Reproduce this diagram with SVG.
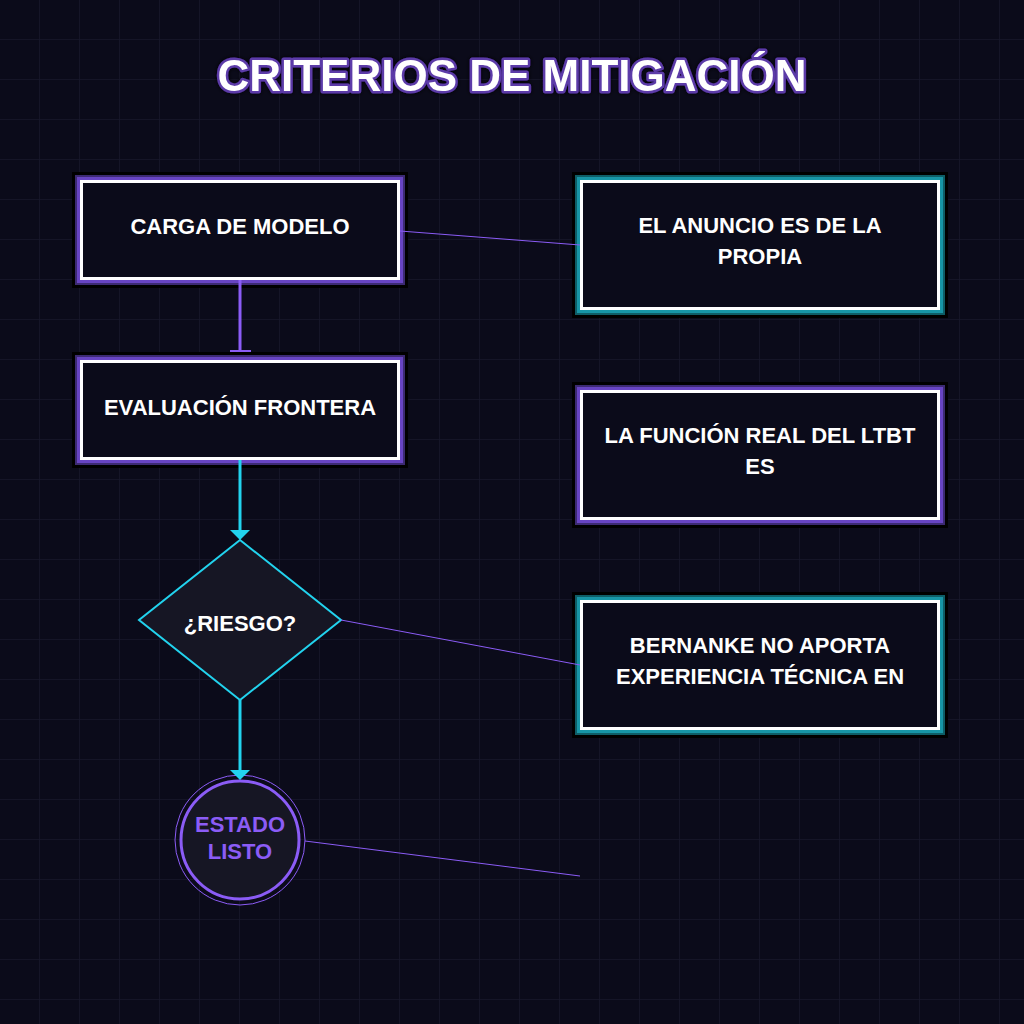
<svg xmlns="http://www.w3.org/2000/svg" width="1024" height="1024" viewBox="0 0 1024 1024">
  <defs>
    <pattern id="grid" width="40" height="40" patternUnits="userSpaceOnUse">
      <path d="M40 0 V40 M0 40 H40" fill="none" stroke="#17172b" stroke-width="1.5"/>
    </pattern>
    <filter id="glow" x="-10%" y="-40%" width="120%" height="180%">
      <feGaussianBlur in="SourceAlpha" stdDeviation="2"/>
      <feOffset dx="0" dy="0" result="b"/>
      <feFlood flood-color="#000"/>
      <feComposite in2="b" operator="in" result="s"/>
      <feMerge><feMergeNode in="s"/><feMergeNode in="SourceGraphic"/></feMerge>
    </filter>
  </defs>
  <style>
    .lbl { font-family: "Liberation Sans", Arial, sans-serif; font-weight: bold; font-size: 22px; fill: #ffffff; text-anchor: middle; }
    .title { font-family: "Liberation Sans", Arial, sans-serif; font-weight: bold; font-size: 44px; fill: #ffffff; stroke: #5b3aa8; stroke-width: 5; paint-order: stroke; stroke-linejoin: round; text-anchor: middle; }
    .sh { fill: #000000; }
    .pd { fill: #3c2a72; }
    .pb { fill: #6744c2; }
    .td { fill: #0e5d66; }
    .tb { fill: #1795a6; }
    .box { fill: #0b0b1a; stroke: #ffffff; stroke-width: 3; }
    .thin { fill: none; stroke: #8b5cf6; stroke-width: 1; }
    .cy { fill: none; stroke: #22d3ee; stroke-width: 3; }
    .cyh { fill: #22d3ee; }
  </style>
  <rect width="1024" height="1024" fill="#0b0b1a"/>
  <rect width="1024" height="1024" fill="url(#grid)"/>

  <text class="title" x="512" y="91" filter="url(#glow)">CRITERIOS DE MITIGACIÓN</text>

  <g id="node-carga">
    <rect class="sh" x="72" y="172" width="336" height="116"/>
    <rect class="pd" x="75" y="175" width="330" height="110"/>
    <rect class="pb" x="77" y="177" width="326" height="106"/>
    <rect class="box" x="81.5" y="181.5" width="317" height="97"/>
    <text class="lbl" x="240" y="234">CARGA DE MODELO</text>
  </g>

  <g id="node-evaluacion">
    <rect class="sh" x="72" y="352" width="336" height="116"/>
    <rect class="pd" x="75" y="355" width="330" height="110"/>
    <rect class="pb" x="77" y="357" width="326" height="106"/>
    <rect class="box" x="81.5" y="361.5" width="317" height="97"/>
    <text class="lbl" x="240" y="415">EVALUACIÓN FRONTERA</text>
  </g>

  <g id="node-riesgo">
    <polygon points="240,540 341,620 240,700 139,620" fill="#161624" stroke="#22d3ee" stroke-width="2"/>
    <text class="lbl" x="240" y="631">¿RIESGO?</text>
  </g>

  <g id="node-estado">
    <circle cx="240" cy="840" r="65" fill="none" stroke="#8b5cf6" stroke-width="1"/>
    <circle cx="240" cy="840" r="59" fill="#161624" stroke="#8b5cf6" stroke-width="3"/>
    <text class="lbl" x="240" y="832" style="fill:#8b5cf6">ESTADO</text>
    <text class="lbl" x="240" y="859" style="fill:#8b5cf6">LISTO</text>
  </g>

  <g id="node-anuncio">
    <rect class="sh" x="572" y="172" width="376" height="146"/>
    <rect class="td" x="575" y="175" width="370" height="140"/>
    <rect class="tb" x="577" y="177" width="366" height="136"/>
    <rect class="box" x="581.5" y="181.5" width="357" height="127"/>
    <text class="lbl" x="760" y="233">EL ANUNCIO ES DE LA</text>
    <text class="lbl" x="760" y="264">PROPIA</text>
  </g>

  <g id="node-funcion">
    <rect class="sh" x="572" y="382" width="376" height="146"/>
    <rect class="pd" x="575" y="385" width="370" height="140"/>
    <rect class="pb" x="577" y="387" width="366" height="136"/>
    <rect class="box" x="581.5" y="391.5" width="357" height="127"/>
    <text class="lbl" x="760" y="443">LA FUNCIÓN REAL DEL LTBT</text>
    <text class="lbl" x="760" y="474">ES</text>
  </g>

  <g id="node-bernanke">
    <rect class="sh" x="572" y="592" width="376" height="146"/>
    <rect class="td" x="575" y="595" width="370" height="140"/>
    <rect class="tb" x="577" y="597" width="366" height="136"/>
    <rect class="box" x="581.5" y="601.5" width="357" height="127"/>
    <text class="lbl" x="760" y="653">BERNANKE NO APORTA</text>
    <text class="lbl" x="760" y="684">EXPERIENCIA TÉCNICA EN</text>
  </g>

  <g id="connectors">
    <line class="thin" x1="400" y1="231" x2="580" y2="245"/>
    <line class="thin" x1="341" y1="620" x2="580" y2="665"/>
    <line class="thin" x1="305" y1="841" x2="580" y2="876"/>
    <line x1="240" y1="280" x2="240" y2="350" stroke="#8b5cf6" stroke-width="3"/>
    <line x1="230" y1="351" x2="251" y2="351" stroke="#8b5cf6" stroke-width="2"/>
    <line class="cy" x1="240" y1="460" x2="240" y2="531"/>
    <polygon class="cyh" points="230,530 250,530 240,540"/>
    <line class="cy" x1="240" y1="700" x2="240" y2="771"/>
    <polygon class="cyh" points="230,770 250,770 240,780"/>
  </g>
</svg>
